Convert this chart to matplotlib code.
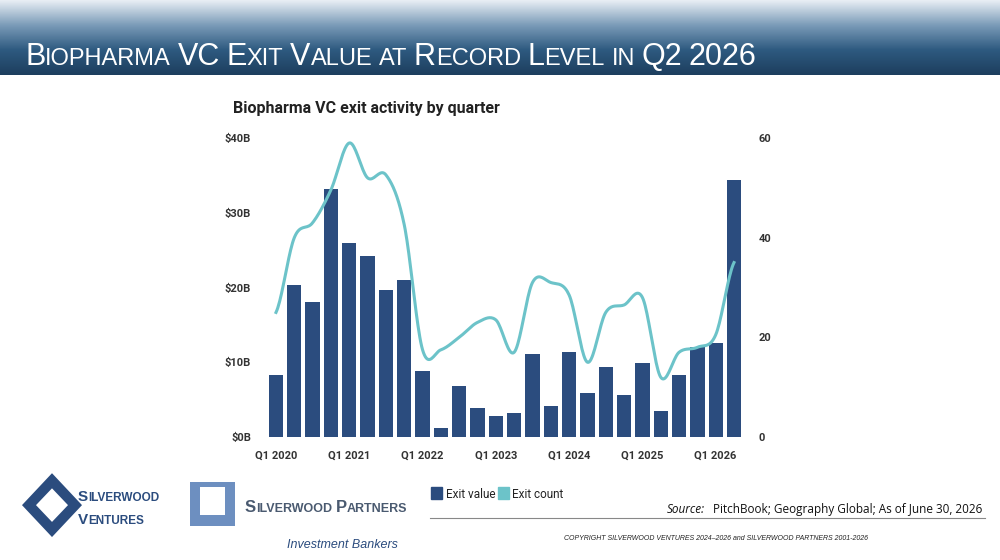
import numpy as np
import matplotlib.pyplot as plt
from matplotlib.patches import Polygon
from matplotlib.colors import LinearSegmentedColormap

plt.rcParams['font.family'] = ['Roboto', 'DejaVu Sans']

quarters = [f"Q{q} {y}" for y in range(2020, 2027) for q in range(1, 5)][:26]
exit_value = [8.3, 20.3, 18.1, 33.2, 26.0, 24.2, 19.7, 21.0, 8.8, 1.2, 6.8, 3.9, 2.8,
              3.2, 11.1, 4.1, 11.4, 5.9, 9.4, 5.6, 9.9, 3.5, 8.3, 12.0, 12.6, 34.4]
exit_count = [25, 40, 43, 49.6, 59, 52, 52.6, 42.6, 17.5, 17.5, 20, 23, 23.5,
              17, 31, 31, 28.5, 15, 25, 26.5, 28, 12, 17, 18, 20.5, 35]
tick_labels = ["Q1 2020", "Q1 2021", "Q1 2022", "Q1 2023", "Q1 2024", "Q1 2025", "Q1 2026"]

bar_col = "#2b4c7e"
line_col = "#6cc3c9"

fig = plt.figure(figsize=(10, 5.6), dpi=100)
renderer = fig.canvas.get_renderer()


def small_caps(x, y, text, big, small, **kw):
    # draw text in small caps, piece by piece
    pieces = []
    for word_i, word in enumerate(text.split(" ")):
        if word_i:
            pieces.append((" ", small))
        if word.isupper() or word[0].isdigit():
            pieces.append((word, big))
        elif word[0].isupper():
            pieces.append((word[0], big))
            pieces.append((word[1:].upper(), small))
        else:
            pieces.append((word.upper(), small))
    for s, size in pieces:
        t = fig.text(x, y, s.replace(" ", "\u00a0"), fontsize=size, **kw)
        x += t.get_window_extent(renderer).width / fig.bbox.width
    return x


hdr = fig.add_axes([0, 1 - 75 / 560, 1, 75 / 560])
grad = np.linspace(0, 1, 100).reshape(-1, 1)
hdr.imshow(grad, aspect="auto", cmap=LinearSegmentedColormap.from_list(
    "h", ["#e8eef4", "#7a9bb8", "#2e5a80", "#1d3e5e"]), extent=[0, 1, 0, 1])
hdr.axis("off")
small_caps(0.025, 1 - 65 / 560, "Biopharma VC Exit Value at Record Level in Q2 2026", 22, 17,
           color="white", family=["Liberation Sans", "DejaVu Sans"])

ax = fig.add_axes([0.265, 1 - 437 / 560, 0.48, 299 / 560])
x = np.arange(len(quarters))
ax.bar(x, exit_value, width=0.78, color=bar_col, zorder=2)
ax.set_ylim(0, 40)
ax.set_xlim(-0.6, len(x) - 0.4)
ax.set_yticks([0, 10, 20, 30, 40])
ax.set_yticklabels(["$0B", "$10B", "$20B", "$30B", "$40B"], fontsize=8, fontweight="bold", color="#333333")
ax.set_xticks(x[::4])
ax.set_xticklabels(tick_labels, fontsize=8, fontweight="bold", color="#333333")
for s in ax.spines.values():
    s.set_visible(False)
ax.tick_params(length=0, pad=10)

ax2 = ax.twinx()
# smooth curve (Catmull-Rom) through the quarterly points
p = np.array(exit_count, dtype=float)
pts = np.concatenate([[p[0]], p, [p[-1]]])
xs, ys = [], []
t = np.linspace(0, 1, 20, endpoint=False)
for i in range(len(p) - 1):
    p0, p1, p2, p3 = pts[i], pts[i + 1], pts[i + 2], pts[i + 3]
    yy = 0.5 * (2 * p1 + (-p0 + p2) * t + (2 * p0 - 5 * p1 + 4 * p2 - p3) * t**2 + (-p0 + 3 * p1 - 3 * p2 + p3) * t**3)
    xs.extend(i + t); ys.extend(yy)
xs.append(len(p) - 1); ys.append(p[-1])
ax2.plot(xs, ys, color=line_col, lw=2.2, zorder=3)
ax2.set_ylim(0, 60)
ax2.set_yticks([0, 20, 40, 60])
ax2.set_yticklabels(["0", "20", "40", "60"], fontsize=8, fontweight="bold", color="#333333")
for s in ax2.spines.values():
    s.set_visible(False)
ax2.tick_params(length=0, pad=10)

fig.text(0.233, 1 - 113 / 560, "Biopharma VC exit activity by quarter", fontsize=11.5,
         fontweight="bold", color="#222222")

# legend
fig.patches.append(plt.Rectangle((0.431, 1 - 499 / 560), 0.011, 0.021, color=bar_col, transform=fig.transFigure))
fig.text(0.446, 1 - 498 / 560, "Exit value", fontsize=8.5, color="#222222")
fig.patches.append(plt.Rectangle((0.498, 1 - 499 / 560), 0.011, 0.021, color=line_col, transform=fig.transFigure))
fig.text(0.512, 1 - 498 / 560, "Exit count", fontsize=8.5, color="#222222")

main = fig.text(0.982, 1 - 513 / 560, "PitchBook; Geography Global; As of June 30, 2026",
                fontsize=8.5, ha="right", color="#111111", family=["Open Sans", "DejaVu Sans"])
mx = 0.982 - main.get_window_extent(renderer).width / fig.bbox.width - 0.008
fig.text(mx, 1 - 513 / 560, "Source:", fontsize=8.5, style="italic", ha="right", color="#111111",
         family=["Open Sans", "DejaVu Sans"])
fig.add_artist(plt.Line2D([0.43, 0.985], [1 - 518 / 560] * 2, color="#888888", lw=0.8))
fig.text(0.868, 1 - 540 / 560, "COPYRIGHT SILVERWOOD VENTURES 2024\u20132026 and SILVERWOOD PARTNERS 2001-2026",
         fontsize=5, style="italic", ha="right", color="#222222", family=["Liberation Sans", "DejaVu Sans"])

# logos (simplified)
fig.patches.append(Polygon([(0.022, 0.098), (0.052, 0.155), (0.082, 0.098), (0.052, 0.041)],
                           closed=True, fc="#2b4c7e", transform=fig.transFigure))
fig.patches.append(Polygon([(0.036, 0.098), (0.052, 0.128), (0.068, 0.098), (0.052, 0.068)],
                           closed=True, fc="white", transform=fig.transFigure))
small_caps(0.078, 0.105, "Silverwood", 11, 8.5, fontweight="bold", color="#2b4c7e",
           family=["Liberation Sans", "DejaVu Sans"])
small_caps(0.078, 0.065, "Ventures", 11, 8.5, fontweight="bold", color="#2b4c7e",
           family=["Liberation Sans", "DejaVu Sans"])
fig.patches.append(Polygon([(0.19, 0.14), (0.235, 0.14), (0.235, 0.06), (0.19, 0.06)],
                           closed=True, fc="#6d8fc0", transform=fig.transFigure))
fig.patches.append(Polygon([(0.2, 0.13), (0.225, 0.13), (0.225, 0.08), (0.2, 0.08)],
                           closed=True, fc="white", transform=fig.transFigure))
small_caps(0.245, 0.085, "Silverwood Partners", 12, 9, fontweight="bold", color="#4a5a70",
           family=["Liberation Sans", "DejaVu Sans"])
fig.text(0.287, 0.022, "Investment Bankers", fontsize=9, style="italic", color="#2b4c7e",
         family=["Liberation Sans", "DejaVu Sans"])

fig.savefig("out.png", dpi=100)
